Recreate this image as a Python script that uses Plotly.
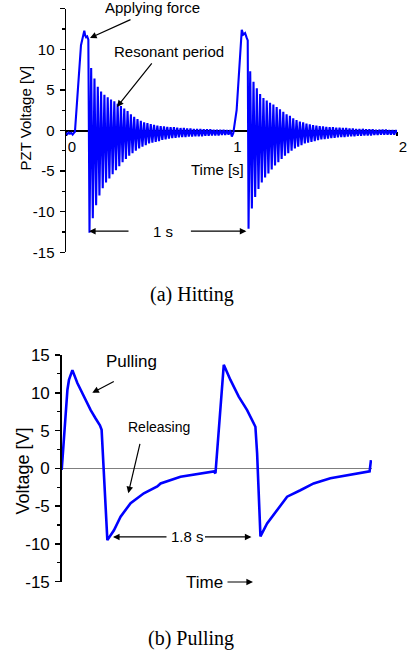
import plotly.graph_objects as go

# ---------------- (a) Hitting : PZT voltage vs time [s] ----------------
hit_pre_t = [0.0, 0.008, 0.016, 0.024, 0.032, 0.040, 0.048, 0.054, 0.0906, 0.1045, 0.1106, 0.116, 0.121, 0.128, 0.135]
hit_pre_v = [-0.3, -0.45, -0.25, -0.4, -0.3, -0.5, -0.3, -0.15, 10.5, 12.0, 12.3, 11.7, 11.5, 11.6, 11.2]

ring_period = 0.02
ring1_start = 0.142
hit1_lower = [-12.6, -10.8, -9.2, -8.0, -7.1, -6.4, -5.9, -5.4, -4.9, -4.4, -3.9, -3.5, -3.1, -2.8,
              -2.5, -2.2, -2.0, -1.8, -1.6, -1.5, -1.4, -1.3, -1.15, -1.1, -1.0, -0.95, -0.9, -0.85,
              -0.8, -0.8, -0.75, -0.75, -0.7, -0.7, -0.7, -0.65, -0.65, -0.6, -0.6, -0.6, -0.55, -0.55, -0.5]
hit1_upper = [7.7, 6.4, 5.4, 4.8, 4.4, 4.1, 3.8, 3.6, 3.3, 3.0, 2.7, 2.4, 2.0, 1.7,
              1.4, 1.2, 1.0, 0.9, 0.8, 0.7, 0.6, 0.55, 0.5, 0.45, 0.4, 0.4, 0.35, 0.3,
              0.3, 0.25, 0.25, 0.2, 0.2, 0.2, 0.15, 0.15, 0.15, 0.1, 0.1, 0.1, 0.1, 0.05, 0.05]

hit_mid_t = [1.002, 1.011, 1.031, 1.051, 1.062, 1.071, 1.082, 1.092, 1.098]
hit_mid_v = [-0.75, -0.3, 2.5, 9.1, 12.4, 11.8, 12.0, 11.4, 11.1]

ring2_start = 1.103
hit2_lower = [-12.1, -9.6, -8.2, -7.2, -6.4, -5.8, -5.3, -4.8, -4.3, -3.9, -3.5, -3.1, -2.8, -2.5, -2.2,
              -2.0, -1.8, -1.6, -1.5, -1.4, -1.3, -1.2, -1.1, -1.05, -1.0, -0.95, -0.9, -0.85, -0.8, -0.8,
              -0.75, -0.7, -0.7, -0.65, -0.65, -0.6, -0.6, -0.6, -0.55, -0.55, -0.5, -0.5, -0.5, -0.5, -0.5]
hit2_upper = [7.3, 6.0, 5.2, 4.5, 4.0, 3.7, 3.4, 3.2, 2.9, 2.6, 2.3, 2.0, 1.8, 1.5, 1.3,
              1.1, 1.0, 0.85, 0.75, 0.65, 0.6, 0.55, 0.5, 0.45, 0.4, 0.4, 0.35, 0.35, 0.3, 0.3,
              0.25, 0.25, 0.2, 0.2, 0.2, 0.15, 0.15, 0.15, 0.1, 0.1, 0.1, 0.1, 0.05, 0.05, 0.05]

hit_end_t = [2.0]
hit_end_v = [-0.3]

hit_xticks = [0, 1, 2]
hit_xtick_text = ["0", "1", "2"]

# ---------------- (b) Pulling : voltage vs time ----------------
pull_t = [0.0, 0.067, 0.085, 0.125, 0.183, 0.26, 0.339, 0.397, 0.447, 0.467, 0.50, 0.534,
          0.611, 0.689, 0.806, 0.961, 1.118, 1.157, 1.39, 1.624, 1.779,
          1.799, 1.896, 1.974, 2.071, 2.169, 2.228, 2.266, 2.286, 2.325,
          2.403, 2.52, 2.637, 2.792, 2.947, 3.143, 3.338, 3.532, 3.602, 3.618]
pull_v = [-0.2, 10.4, 11.7, 13.0, 11.3, 9.5, 7.7, 6.6, 5.7, 5.1, -2.0, -9.5,
          -8.2, -6.4, -4.6, -3.3, -2.4, -2.0, -1.1, -0.65, -0.4,
          -0.65, 13.7, 11.7, 9.5, 7.7, 6.4, 5.5, 2.0, -9.0,
          -7.3, -5.5, -3.75, -2.9, -2.0, -1.3, -0.9, -0.6, -0.4, 1.1]

y_ticks = [-15, -10, -5, 0, 5, 10, 15]
y_tick_text = ["-15", "-10", "-5", "0", "5", "10", "15"]
y_minor = [-12.5, -7.5, -2.5, 2.5, 7.5, 12.5]

# ---------- assemble the hitting waveform ----------
hit_t = list(hit_pre_t)
hit_v = list(hit_pre_v)
for i, (lo, up) in enumerate(zip(hit1_lower, hit1_upper)):
    hit_t += [ring1_start + i * ring_period, ring1_start + (i + 0.5) * ring_period]
    hit_v += [lo, up]
hit_t += hit_mid_t
hit_v += hit_mid_v
for i, (lo, up) in enumerate(zip(hit2_lower, hit2_upper)):
    hit_t += [ring2_start + i * ring_period, ring2_start + (i + 0.5) * ring_period]
    hit_v += [lo, up]
hit_t += hit_end_t
hit_v += hit_end_v

W, H = 411, 653
def fx(p):  # window pixel x -> paper fraction
    return p / W
def fy(p):  # window pixel y -> paper fraction
    return 1 - p / H

SANS = "Liberation Sans, Arial, sans-serif"
SERIF = "Liberation Serif, Times New Roman, serif"
BLUE = "#0000FF"

fig = go.Figure()
fig.add_trace(go.Scatter(x=hit_t, y=hit_v, mode="lines", line=dict(color=BLUE, width=2.1),
                         xaxis="x", yaxis="y", showlegend=False, hoverinfo="skip"))
fig.add_trace(go.Scatter(x=pull_t, y=pull_v, mode="lines", line=dict(color=BLUE, width=2.6),
                         xaxis="x2", yaxis="y2", showlegend=False, hoverinfo="skip"))

top_dom = [fy(252.3), fy(8.7)]
bot_dom = [fy(581.7), fy(355.0)]

yax_common = dict(range=[-15, 15], showline=True, linecolor="black", linewidth=1.5,
                  ticks="outside", ticklen=5, tickwidth=1.5, tickcolor="black",
                  tickmode="array", tickvals=y_ticks, ticktext=y_tick_text,
                  minor=dict(tickmode="array", tickvals=y_minor, ticks="outside", ticklen=3,
                             tickwidth=1.2, tickcolor="black"),
                  showgrid=False, fixedrange=True)

fig.update_layout(
    width=W, height=H,
    margin=dict(l=0, r=0, t=0, b=0, autoexpand=False),
    paper_bgcolor="white", plot_bgcolor="white",
    font=dict(family=SANS, color="black"),
    xaxis=dict(domain=[fx(66), fx(397)], range=[0, 2], anchor="free",
               position=(top_dom[0] + top_dom[1]) / 2,
               showline=True, linecolor="black", linewidth=2,
               ticks="outside", ticklen=4, tickwidth=1.5, tickcolor="black",
               tickmode="array", tickvals=hit_xticks, ticktext=hit_xtick_text,
               tickfont=dict(size=15), ticklabelshift=6, ticklabelstandoff=-2,
               showgrid=False, zeroline=False, layer="below traces", fixedrange=True),
    yaxis=dict(domain=top_dom, anchor="x", tickfont=dict(size=15), zeroline=False,
               ticklabelstandoff=2, **yax_common),
    xaxis2=dict(domain=[fx(61.7), fx(372)], range=[0, 3.63], anchor="y2", visible=False,
                fixedrange=True),
    yaxis2=dict(domain=bot_dom, anchor="x2", tickfont=dict(size=17), zeroline=True,
                zerolinecolor="#7f7f7f", zerolinewidth=1.3, ticklabelstandoff=2, **yax_common),
)

ann = []
def text(x, y, s, size, xref="x", yref="y", family=SANS, angle=0):
    ann.append(dict(x=x, y=y, xref=xref, yref=yref, text=s, showarrow=False,
                    font=dict(family=family, size=size, color="black"),
                    xanchor="center", yanchor="middle", textangle=angle))

def arrow(x, y, ax, ay, xref="x", yref="y"):
    ann.append(dict(x=x, y=y, xref=xref, yref=yref, ax=ax, ay=ay, text="", showarrow=True,
                    arrowhead=2, arrowsize=1.1, arrowwidth=1.2, arrowcolor="black"))

P = "paper"
# top panel
text(fx(152), fy(8), "Applying force", 15, xref=P, yref=P)
arrow(0.145, 11.4, 42, -19)
text(0.622, 9.67, "Resonant period", 15)
arrow(0.308, 2.9, 36, -45)
text(0.918, -4.86, "Time [s]", 15)
text(0.586, -12.4, "1 s", 15)
arrow(0.139, -12.4, 41, 0)
arrow(1.09, -12.4, -57, 0)
text(fx(25), fy(118.5), "PZT Voltage [V]", 15, xref=P, yref=P, angle=-90)
text(fx(192), fy(295), "(a) Hitting", 20, xref=P, yref=P, family=SERIF)

# bottom panel
text(0.816, 14.2, "Pulling", 17, xref="x2", yref="y2")
arrow(0.358, 10.0, 23, -12, xref="x2", yref="y2")
text(1.144, 5.51, "Releasing", 14, xref="x2", yref="y2")
arrow(0.779, -3.3, 12, -51, xref="x2", yref="y2")
text(1.477, -9.08, "1.8 s", 15, xref="x2", yref="y2")
arrow(0.60, -9.08, 55, 0, xref="x2", yref="y2")
arrow(2.22, -9.08, -48, 0, xref="x2", yref="y2")
text(fx(204.5), fy(582), "Time", 17, xref=P, yref=P)
arrow(fx(253), fy(582), -27, 0, xref=P, yref=P)
text(fx(22.5), fy(471), "Voltage [V]", 18, xref=P, yref=P, angle=-90)
text(fx(190.5), fy(638), "(b) Pulling", 20, xref=P, yref=P, family=SERIF)

fig.update_layout(annotations=ann)
# the page's default 8 px body margin would push the figure out of the window
fig.write_html("out.html", config={"displayModeBar": False, "staticPlot": True},
               post_script="document.body.style.margin='0';document.body.style.overflow='hidden';")
